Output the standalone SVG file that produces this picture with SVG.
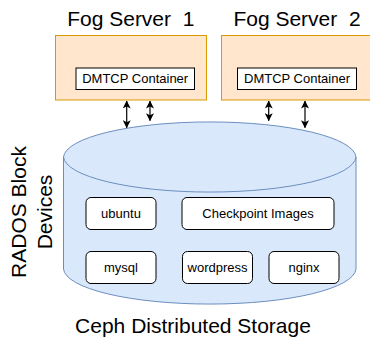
<svg xmlns="http://www.w3.org/2000/svg" width="370" height="339" viewBox="0 0 370 339">
  <style>
    text { font-family: "Liberation Sans", Arial, Helvetica, sans-serif; fill: #000; }
    .label { font-size: 13px; text-anchor: middle; }
    .big { font-size: 21px; text-anchor: middle; white-space: pre; }
    .server { fill: #ffe6cc; stroke: #d79b00; stroke-width: 1; }
    .container { fill: #ffffff; stroke: #000000; stroke-width: 1; }
    .item { fill: #ffffff; stroke: #000000; stroke-width: 1; }
    .cyl { fill: #dae8fc; stroke: #6c8ebf; stroke-width: 1; }
    .conn { stroke: #000000; stroke-width: 1.2; fill: none; marker-start: url(#arrow); marker-end: url(#arrow); }
  </style>
  <defs>
    <marker id="arrow" viewBox="0 0 8 8" refX="7.5" refY="4" markerWidth="8" markerHeight="8" markerUnits="userSpaceOnUse" orient="auto-start-reverse">
      <path d="M0,0 L8,4 L0,8 L2,4 z" fill="#000000"/>
    </marker>
  </defs>

  <g id="fog-server-1">
    <text class="big" x="130.8" y="26" xml:space="preserve">Fog Server  1</text>
    <rect class="server" x="55.5" y="35.5" width="151" height="64.5"/>
    <g id="dmtcp-1">
      <rect class="container" x="76" y="68" width="118.5" height="21.5"/>
      <text class="label" x="135.2" y="83.3">DMTCP Container</text>
    </g>
  </g>

  <g id="fog-server-2">
    <text class="big" x="297" y="26" xml:space="preserve">Fog Server  2</text>
    <rect class="server" x="221.5" y="35.5" width="151" height="64.5"/>
    <g id="dmtcp-2">
      <rect class="container" x="237.5" y="68" width="119" height="21.5"/>
      <text class="label" x="297" y="83.3">DMTCP Container</text>
    </g>
  </g>

  <g id="ceph-storage">
    <path class="cyl" d="M63.5,157 A146.3,36 0 0 1 356,157 L356,269 A146.3,36 0 0 1 63.5,269 Z"/>
    <path class="cyl" d="M63.5,157 A146.3,36 0 0 0 356,157" style="fill:none"/>
    <text class="big" x="193" y="333">Ceph Distributed Storage</text>
  </g>

  <g id="rados-label">
    <text class="big" transform="translate(25.5,212) rotate(-90)">RADOS Block</text>
    <text class="big" transform="translate(51.5,212) rotate(-90)">Devices</text>
  </g>

  <g id="ubuntu">
    <rect class="item" x="86" y="197.5" width="70" height="32" rx="5"/>
    <text class="label" x="121" y="218">ubuntu</text>
  </g>
  <g id="checkpoint-images">
    <rect class="item" x="182" y="197.5" width="152" height="32" rx="5"/>
    <text class="label" x="258" y="218">Checkpoint Images</text>
  </g>
  <g id="mysql">
    <rect class="item" x="86" y="251.5" width="70" height="32" rx="5"/>
    <text class="label" x="121" y="272">mysql</text>
  </g>
  <g id="wordpress">
    <rect class="item" x="182.5" y="251.5" width="70" height="32" rx="5"/>
    <text class="label" x="217.5" y="272">wordpress</text>
  </g>
  <g id="nginx">
    <rect class="item" x="269" y="251.5" width="70" height="32" rx="5"/>
    <text class="label" x="304" y="272">nginx</text>
  </g>

  <g id="connectors">
    <line class="conn" x1="126.7" y1="101" x2="126.7" y2="127.7"/>
    <line class="conn" x1="150" y1="101" x2="150" y2="120.7"/>
    <line class="conn" x1="268.7" y1="101" x2="268.7" y2="120.7"/>
    <line class="conn" x1="305" y1="101" x2="305" y2="127.7"/>
  </g>
</svg>
